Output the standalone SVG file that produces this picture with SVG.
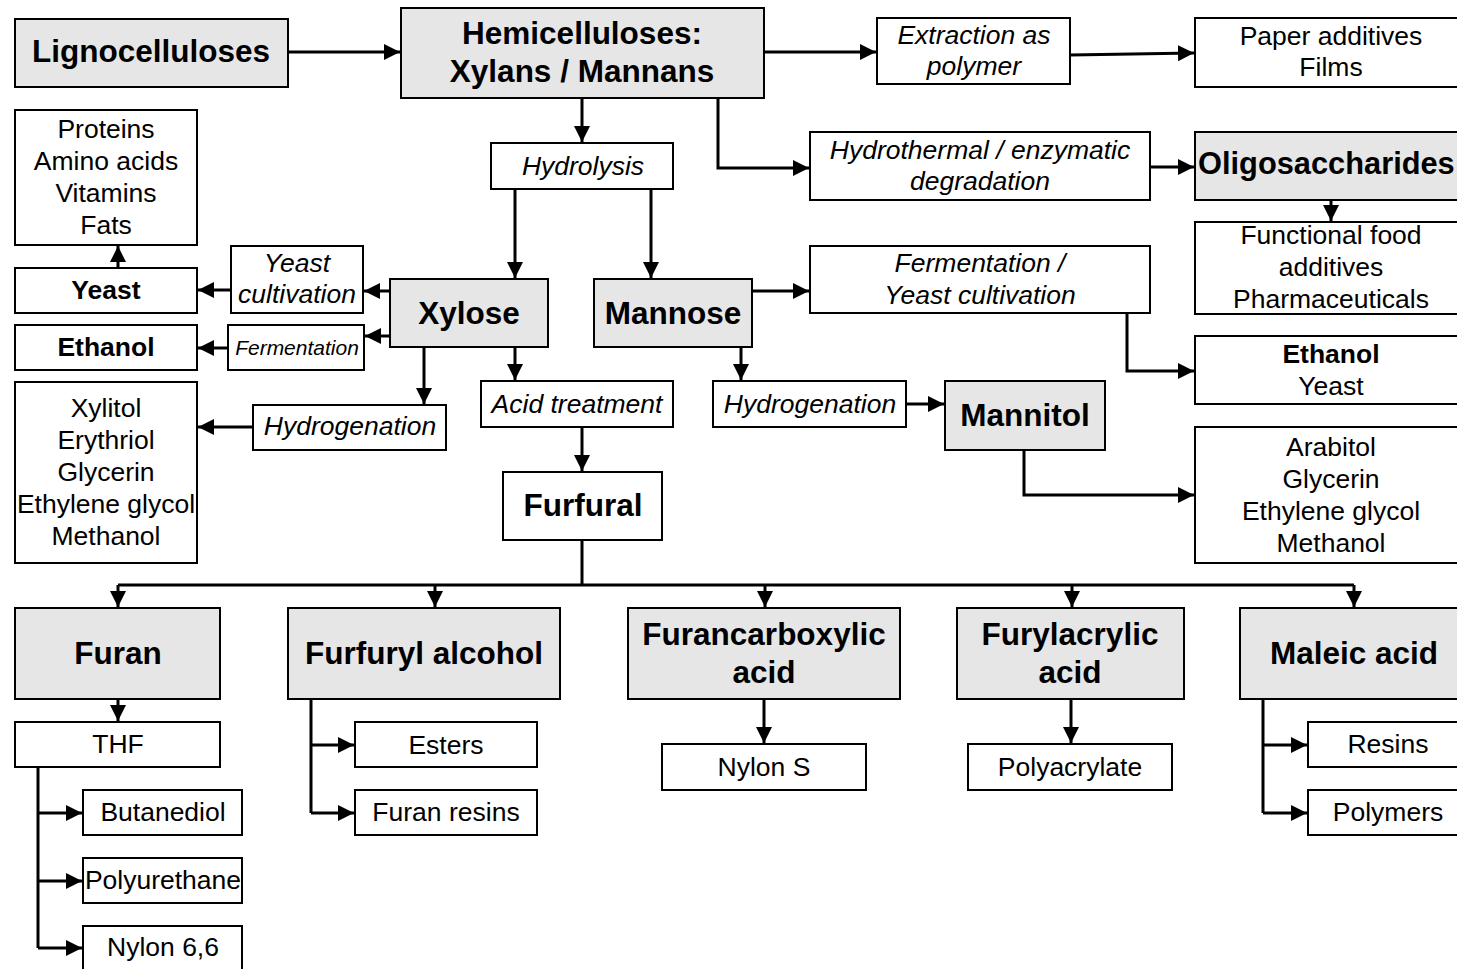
<svg xmlns="http://www.w3.org/2000/svg" width="1457" height="969" viewBox="0 0 1457 969">
  <style>
    .box { fill: #ffffff; stroke: #000000; stroke-width: 2; }
    .key { fill: #e6e6e6; stroke: #000000; stroke-width: 2; }
    .t { font-family: "Liberation Sans", Arial, sans-serif; font-size: 26.5px; fill: #000; text-anchor: middle; }
    .i { font-style: italic; }
    .b { font-weight: bold; }
    .big { font-weight: bold; font-size: 31.5px; }
    .sm { font-size: 21px; }
    .wire { fill: none; stroke: #000000; stroke-width: 3; }
    .arr { marker-end: url(#head); }
  </style>
  <defs>
    <marker id="head" viewBox="0 0 16 16" refX="16" refY="8" markerWidth="16" markerHeight="16" markerUnits="userSpaceOnUse" orient="auto">
      <path d="M0,0 L16,8 L0,16 Z" fill="#000"/>
    </marker>
  </defs>
  <rect width="1457" height="969" fill="#ffffff"/>

  <!-- connectors -->
  <g id="connectors">
    <path class="wire arr" d="M288,52 H400"/>
    <path class="wire arr" d="M764,52 H876"/>
    <path class="wire arr" d="M1070,55 L1194,53"/>
    <path class="wire arr" d="M582,98 V142"/>
    <path class="wire arr" d="M718,98 V168 H809"/>
    <path class="wire arr" d="M1150,167 H1194"/>
    <path class="wire arr" d="M1331,200 V221"/>
    <path class="wire arr" d="M515,189 V278"/>
    <path class="wire arr" d="M651,189 V278"/>
    <path class="wire arr" d="M752,291 H809"/>
    <path class="wire arr" d="M1127,313 V371 H1194"/>
    <path class="wire arr" d="M390,291 H364"/>
    <path class="wire arr" d="M231,290 H198"/>
    <path class="wire arr" d="M118,268 V246"/>
    <path class="wire arr" d="M390,336 H365"/>
    <path class="wire arr" d="M228,348 H198"/>
    <path class="wire arr" d="M424,347 V404"/>
    <path class="wire arr" d="M253,427 H198"/>
    <path class="wire arr" d="M515,347 V380"/>
    <path class="wire arr" d="M582,427 V471"/>
    <path class="wire arr" d="M741,347 V380"/>
    <path class="wire arr" d="M906,404 H944"/>
    <path class="wire arr" d="M1024,450 V495 H1194"/>
    <path class="wire" d="M582,540 V585 M118,585 H1354"/>
    <path class="wire arr" d="M118,585 V607"/>
    <path class="wire arr" d="M435,585 V607"/>
    <path class="wire arr" d="M765,585 V607"/>
    <path class="wire arr" d="M1072,585 V607"/>
    <path class="wire arr" d="M1354,585 V607"/>
    <path class="wire arr" d="M118,699 V721"/>
    <path class="wire" d="M38,767 V948"/>
    <path class="wire arr" d="M38,813 H82"/>
    <path class="wire arr" d="M38,881 H82"/>
    <path class="wire arr" d="M38,948 H82"/>
    <path class="wire" d="M311,699 V813"/>
    <path class="wire arr" d="M311,745 H354"/>
    <path class="wire arr" d="M311,813 H354"/>
    <path class="wire arr" d="M764,699 V743"/>
    <path class="wire arr" d="M1071,699 V743"/>
    <path class="wire" d="M1263,699 V813"/>
    <path class="wire arr" d="M1263,745 H1307"/>
    <path class="wire arr" d="M1263,813 H1307"/>
  </g>

  <!-- top row -->
  <g id="lignocelluloses">
    <rect class="key" x="15" y="19" width="273" height="68"/>
    <text class="t big" x="151" y="62">Lignocelluloses</text>
  </g>
  <g id="hemicelluloses">
    <rect class="key" x="401" y="8" width="363" height="90"/>
    <text class="t big" x="582" y="44">Hemicelluloses:</text>
    <text class="t big" x="582" y="82">Xylans / Mannans</text>
  </g>
  <g id="extraction">
    <rect class="box" x="877" y="18" width="193" height="66"/>
    <text class="t i" x="974" y="44">Extraction as</text>
    <text class="t i" x="974" y="75">polymer</text>
  </g>
  <g id="paper-films">
    <rect class="box" x="1195" y="18" width="275" height="69"/>
    <text class="t" x="1331" y="45">Paper additives</text>
    <text class="t" x="1331" y="76">Films</text>
  </g>

  <g id="hydrolysis">
    <rect class="box" x="491" y="143" width="182" height="46"/>
    <text class="t i" x="583" y="175">Hydrolysis</text>
  </g>
  <g id="degradation">
    <rect class="box" x="810" y="132" width="340" height="68"/>
    <text class="t i" x="980" y="159">Hydrothermal / enzymatic</text>
    <text class="t i" x="980" y="190">degradation</text>
  </g>
  <g id="oligosaccharides">
    <rect class="key" x="1195" y="132" width="275" height="68"/>
    <text class="t big" x="1198" y="174" style="text-anchor:start;font-size:30.8px">Oligosaccharides</text>
  </g>
  <g id="functional-food">
    <rect class="box" x="1195" y="222" width="275" height="92"/>
    <text class="t" x="1331" y="244">Functional food</text>
    <text class="t" x="1331" y="276">additives</text>
    <text class="t" x="1331" y="308">Pharmaceuticals</text>
  </g>

  <!-- xylose branch -->
  <g id="proteins">
    <rect class="box" x="15" y="110" width="182" height="135"/>
    <text class="t" x="106" y="138">Proteins</text>
    <text class="t" x="106" y="170">Amino acids</text>
    <text class="t" x="106" y="202">Vitamins</text>
    <text class="t" x="106" y="234">Fats</text>
  </g>
  <g id="yeast">
    <rect class="box" x="15" y="268" width="182" height="45"/>
    <text class="t b" x="106" y="299">Yeast</text>
  </g>
  <g id="yeast-cultivation">
    <rect class="box" x="231" y="246" width="132" height="67"/>
    <text class="t i" x="297" y="272">Yeast</text>
    <text class="t i" x="297" y="303">cultivation</text>
  </g>
  <g id="xylose">
    <rect class="key" x="390" y="279" width="158" height="68"/>
    <text class="t big" x="469" y="324">Xylose</text>
  </g>
  <g id="ethanol">
    <rect class="box" x="15" y="325" width="182" height="45"/>
    <text class="t b" x="106" y="356">Ethanol</text>
  </g>
  <g id="fermentation">
    <rect class="box" x="228" y="325" width="136" height="45"/>
    <text class="t i sm" x="297" y="355">Fermentation</text>
  </g>
  <g id="xylitol">
    <rect class="box" x="15" y="382" width="182" height="181"/>
    <text class="t" x="106" y="417">Xylitol</text>
    <text class="t" x="106" y="449">Erythriol</text>
    <text class="t" x="106" y="481">Glycerin</text>
    <text class="t" x="106" y="513">Ethylene glycol</text>
    <text class="t" x="106" y="545">Methanol</text>
  </g>
  <g id="hydrogenation-xylose">
    <rect class="box" x="253" y="405" width="193" height="45"/>
    <text class="t i" x="350" y="435">Hydrogenation</text>
  </g>
  <g id="acid-treatment">
    <rect class="box" x="481" y="381" width="192" height="46"/>
    <text class="t i" x="577" y="413">Acid treatment</text>
  </g>
  <g id="furfural">
    <rect class="box" x="503" y="472" width="159" height="68"/>
    <text class="t big" x="583" y="516">Furfural</text>
  </g>

  <!-- mannose branch -->
  <g id="mannose">
    <rect class="key" x="594" y="279" width="158" height="68"/>
    <text class="t big" x="673" y="324">Mannose</text>
  </g>
  <g id="fermentation-yeast">
    <rect class="box" x="810" y="246" width="340" height="67"/>
    <text class="t i" x="980" y="272">Fermentation /</text>
    <text class="t i" x="980" y="304">Yeast cultivation</text>
  </g>
  <g id="ethanol-yeast">
    <rect class="box" x="1195" y="336" width="275" height="68"/>
    <text class="t b" x="1331" y="363">Ethanol</text>
    <text class="t" x="1331" y="395">Yeast</text>
  </g>
  <g id="hydrogenation-mannose">
    <rect class="box" x="713" y="381" width="193" height="46"/>
    <text class="t i" x="810" y="413">Hydrogenation</text>
  </g>
  <g id="mannitol">
    <rect class="key" x="945" y="381" width="160" height="69"/>
    <text class="t big" x="1025" y="426">Mannitol</text>
  </g>
  <g id="arabitol">
    <rect class="box" x="1195" y="427" width="275" height="136"/>
    <text class="t" x="1331" y="456">Arabitol</text>
    <text class="t" x="1331" y="488">Glycerin</text>
    <text class="t" x="1331" y="520">Ethylene glycol</text>
    <text class="t" x="1331" y="552">Methanol</text>
  </g>

  <!-- furfural derivatives -->
  <g id="furan">
    <rect class="key" x="15" y="608" width="205" height="91"/>
    <text class="t big" x="118" y="664">Furan</text>
  </g>
  <g id="thf">
    <rect class="box" x="15" y="722" width="205" height="45"/>
    <text class="t" x="118" y="753">THF</text>
  </g>
  <g id="butanediol">
    <rect class="box" x="83" y="790" width="159" height="45"/>
    <text class="t" x="163" y="821">Butanediol</text>
  </g>
  <g id="polyurethane">
    <rect class="box" x="83" y="858" width="159" height="45"/>
    <text class="t" x="163" y="889">Polyurethane</text>
  </g>
  <g id="nylon66">
    <rect class="box" x="83" y="926" width="159" height="60"/>
    <text class="t" x="163" y="956">Nylon 6,6</text>
  </g>

  <g id="furfuryl-alcohol">
    <rect class="key" x="288" y="608" width="272" height="91"/>
    <text class="t big" x="424" y="664">Furfuryl alcohol</text>
  </g>
  <g id="esters">
    <rect class="box" x="355" y="722" width="182" height="45"/>
    <text class="t" x="446" y="754">Esters</text>
  </g>
  <g id="furan-resins">
    <rect class="box" x="355" y="790" width="182" height="45"/>
    <text class="t" x="446" y="821">Furan resins</text>
  </g>

  <g id="furancarboxylic-acid">
    <rect class="key" x="628" y="608" width="272" height="91"/>
    <text class="t big" x="764" y="645">Furancarboxylic</text>
    <text class="t big" x="764" y="683">acid</text>
  </g>
  <g id="nylon-s">
    <rect class="box" x="662" y="744" width="204" height="46"/>
    <text class="t" x="764" y="776">Nylon S</text>
  </g>

  <g id="furylacrylic-acid">
    <rect class="key" x="957" y="608" width="227" height="91"/>
    <text class="t big" x="1070" y="645">Furylacrylic</text>
    <text class="t big" x="1070" y="683">acid</text>
  </g>
  <g id="polyacrylate">
    <rect class="box" x="968" y="744" width="204" height="46"/>
    <text class="t" x="1070" y="776">Polyacrylate</text>
  </g>

  <g id="maleic-acid">
    <rect class="key" x="1240" y="608" width="230" height="91"/>
    <text class="t big" x="1354" y="664">Maleic acid</text>
  </g>
  <g id="resins">
    <rect class="box" x="1308" y="722" width="162" height="45"/>
    <text class="t" x="1388" y="753">Resins</text>
  </g>
  <g id="polymers">
    <rect class="box" x="1308" y="790" width="162" height="45"/>
    <text class="t" x="1388" y="821">Polymers</text>
  </g>
</svg>
